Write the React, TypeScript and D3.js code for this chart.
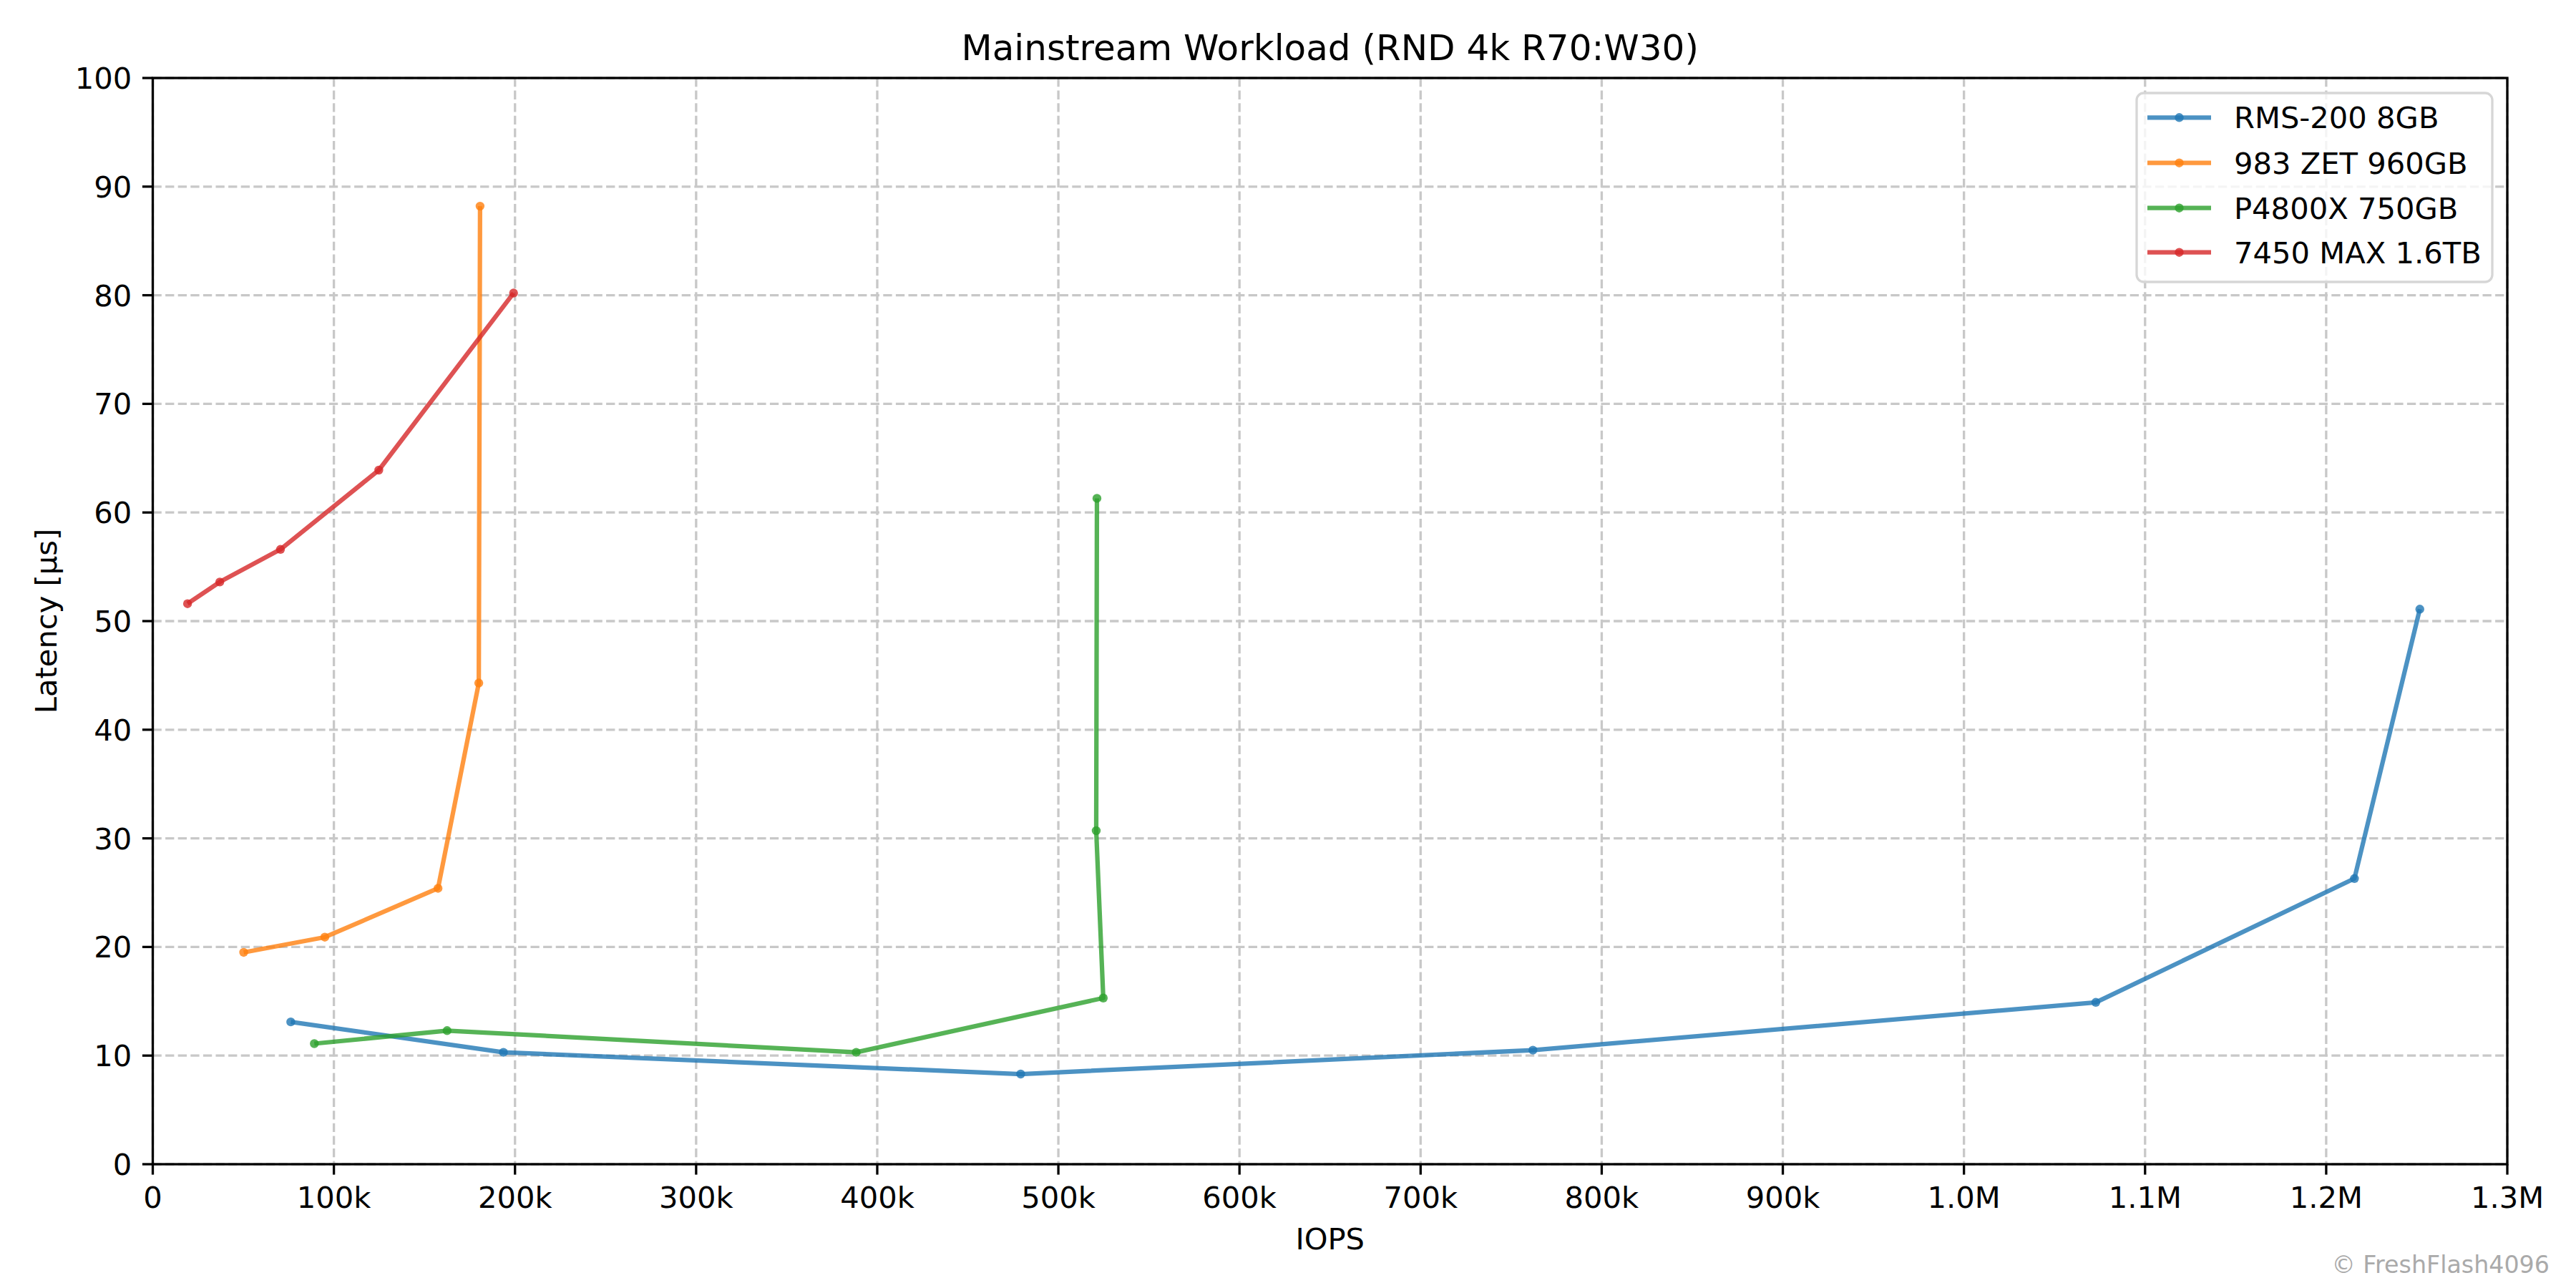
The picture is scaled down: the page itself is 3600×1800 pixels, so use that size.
import React from "react";
import * as d3 from "d3";

const seriesNames = ["RMS-200 8GB", "983 ZET 960GB", "P4800X 750GB", "7450 MAX 1.6TB"];
const seriesColors = ["#1f77b4", "#ff7f0e", "#2ca02c", "#d62728"];

const rmsIops = [76200, 193600, 479200, 762000, 1072800, 1215600, 1251700];
const rmsLat = [13.1, 10.3, 8.3, 10.5, 14.9, 26.3, 51.1];

const zetIops = [50200, 95000, 157500, 180000, 180700];
const zetLat = [19.5, 20.9, 25.4, 44.3, 88.2];

const p4800Iops = [89200, 162500, 388400, 524800, 520900, 521300];
const p4800Lat = [11.1, 12.3, 10.3, 15.3, 30.7, 61.3];

const maxIops = [19200, 37000, 70500, 124800, 199200];
const maxLat = [51.6, 53.6, 56.6, 63.9, 80.2];

const xTicks = [0, 100000, 200000, 300000, 400000, 500000, 600000, 700000, 800000, 900000, 1000000, 1100000, 1200000, 1300000];
const xTickLabels = ["0", "100k", "200k", "300k", "400k", "500k", "600k", "700k", "800k", "900k", "1.0M", "1.1M", "1.2M", "1.3M"];
const yTicks = [0, 10, 20, 30, 40, 50, 60, 70, 80, 90, 100];

const title = "Mainstream Workload (RND 4k R70:W30)";
const xLabel = "IOPS";
const yLabel = "Latency [µs]";
const watermark = "© FreshFlash4096";

export default function App() {
  const W = 3600, H = 1800;
  const L = 213.5, R = 3504, T = 109, B = 1627;
  const x = d3.scaleLinear().domain([0, 1300000]).range([L, R]);
  const y = d3.scaleLinear().domain([0, 100]).range([B, T]);
  const font = "DejaVu Sans, sans-serif";
  const fs = 41.67;

  const series = [
    { xs: rmsIops, ys: rmsLat },
    { xs: zetIops, ys: zetLat },
    { xs: p4800Iops, ys: p4800Lat },
    { xs: maxIops, ys: maxLat },
  ];
  const line = d3.line<[number, number]>().x((d) => x(d[0])).y((d) => y(d[1]));

  const legX = 2986, legY = 130, legW = 497, legH = 264;
  const rowY = [164.3, 227.7, 290.7, 352.7];

  return (
    <svg width={W} height={H} style={{ position: "absolute", left: 0, top: 0, display: "block", background: "#fff" }}>
      <rect x={0} y={0} width={W} height={H} fill="#fff" />
      {/* grid */}
      <g stroke="#c8c8c8" strokeWidth={3.3} strokeDasharray="12.3,5.3">
        {xTicks.map((t, i) => (
          <line key={"gx" + i} x1={x(t)} x2={x(t)} y1={T} y2={B} />
        ))}
        {yTicks.map((t, i) => (
          <line key={"gy" + i} x1={L} x2={R} y1={y(t)} y2={y(t)} />
        ))}
      </g>
      {/* series */}
      {series.map((s, i) => {
        const pts: [number, number][] = s.xs.map((v, j) => [v, s.ys[j]]);
        return (
          <g key={"s" + i}>
            <path d={line(pts) || ""} fill="none" stroke={seriesColors[i]} strokeWidth={6.25} strokeOpacity={0.8} strokeLinejoin="round" strokeLinecap="butt" />
            {pts.map((p, j) => (
              <circle key={j} cx={x(p[0])} cy={y(p[1])} r={6.2} fill={seriesColors[i]} fillOpacity={0.8} />
            ))}
          </g>
        );
      })}
      {/* spines */}
      <rect x={L} y={T} width={R - L} height={B - T} fill="none" stroke="#000" strokeWidth={3.3} />
      {/* x ticks */}
      {xTicks.map((t, i) => (
        <g key={"xt" + i}>
          <line x1={x(t)} x2={x(t)} y1={B} y2={B + 14.6} stroke="#000" strokeWidth={3.3} />
          <text x={x(t)} y={B + 14.6 + 14.6} dy="0.76em" textAnchor="middle" fontFamily={font} fontSize={fs} fill="#000">
            {xTickLabels[i]}
          </text>
        </g>
      ))}
      {/* y ticks */}
      {yTicks.map((t, i) => (
        <g key={"yt" + i}>
          <line x1={L - 14.6} x2={L} y1={y(t)} y2={y(t)} stroke="#000" strokeWidth={3.3} />
          <text x={L - 14.6 - 14.6} y={y(t)} dy="0.36em" textAnchor="end" fontFamily={font} fontSize={fs} fill="#000">
            {t}
          </text>
        </g>
      ))}
      {/* labels */}
      <text x={(L + R) / 2} y={84} textAnchor="middle" fontFamily={font} fontSize={50} fill="#000">
        {title}
      </text>
      <text x={(L + R) / 2} y={1746} textAnchor="middle" fontFamily={font} fontSize={fs} fill="#000">
        {xLabel}
      </text>
      <text transform={`translate(79, ${(T + B) / 2}) rotate(-90)`} textAnchor="middle" fontFamily={font} fontSize={fs} fill="#000">
        {yLabel}
      </text>
      {/* legend */}
      <rect x={legX} y={legY} width={legW} height={legH} rx={10} ry={10} fill="#fff" fillOpacity={0.8} stroke="#d6d6d6" strokeWidth={3.3} />
      {seriesNames.map((n, i) => (
        <g key={"lg" + i}>
          <line x1={3001} x2={3090} y1={rowY[i]} y2={rowY[i]} stroke={seriesColors[i]} strokeWidth={6.25} strokeOpacity={0.8} />
          <circle cx={3045.5} cy={rowY[i]} r={6.2} fill={seriesColors[i]} fillOpacity={0.8} />
          <text x={3122} y={rowY[i]} dy="0.36em" fontFamily={font} fontSize={fs} fill="#000">
            {n}
          </text>
        </g>
      ))}
      <text x={3563} y={1779} textAnchor="end" fontFamily={font} fontSize={33.3} fill="#aaaaaa">
        {watermark}
      </text>
    </svg>
  );
}
